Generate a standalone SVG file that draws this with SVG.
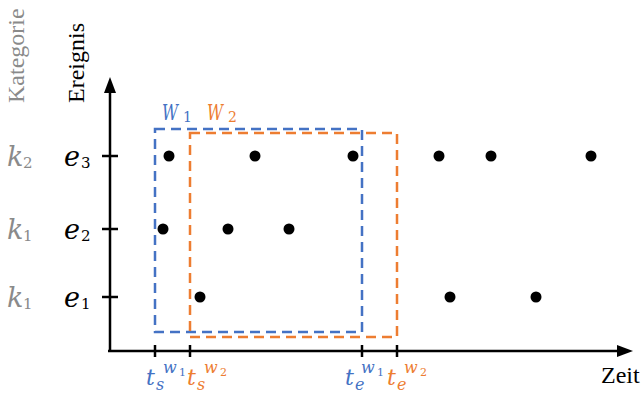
<svg xmlns="http://www.w3.org/2000/svg" width="641" height="393" viewBox="0 0 641 393">
<style>
.ax{stroke:#000;stroke-width:2.5;fill:none}
.tk{stroke:#000;stroke-width:2.5}
.win{fill:none;stroke-width:2.5;stroke-dasharray:10 6}
.blue{fill:#4472C4}
.orange{fill:#ED7D31}
.m{font-family:"DejaVu Serif",serif;font-style:italic}
.d{font-family:"DejaVu Serif",serif;font-style:normal}
.r{font-family:"Liberation Serif",serif;font-size:24px}
.dot{fill:#000}
.gray{fill:#8a8a8a}
</style>
<rect width="641" height="393" fill="#fff"/>
<g id="axes">
<line class="ax" x1="110" y1="352" x2="110" y2="90"/>
<polygon points="110,77 104,93 116,93" fill="#000"/>
<line class="ax" x1="108" y1="351" x2="620" y2="351"/>
<polygon points="633,351 617,345 617,357" fill="#000"/>
<line class="tk" x1="102" y1="156" x2="118" y2="156"/>
<line class="tk" x1="102" y1="229" x2="118" y2="229"/>
<line class="tk" x1="102" y1="297" x2="118" y2="297"/>
<line class="tk" x1="155" y1="345" x2="155" y2="357"/>
<line class="tk" x1="190" y1="345" x2="190" y2="357"/>
<line class="tk" x1="362" y1="345" x2="362" y2="357"/>
<line class="tk" x1="397" y1="345" x2="397" y2="357"/>
</g>
<g id="axis-labels">
<text class="r gray" transform="translate(24,103) rotate(-90)">Kategorie</text>
<text class="r" transform="translate(84,103) rotate(-90)">Ereignis</text>
<text class="r" x="601" y="383">Zeit</text>
</g>
<g id="row-labels">
<text class="m gray" x="7" y="166" font-size="27">k</text><text class="d gray" x="23" y="168" font-size="15">2</text>
<text class="m" x="64" y="166" font-size="27">e</text><text class="d" x="81" y="168" font-size="15">3</text>
<text class="m gray" x="7" y="239" font-size="27">k</text><text class="d gray" x="23" y="241" font-size="15">1</text>
<text class="m" x="64" y="239" font-size="27">e</text><text class="d" x="81" y="241" font-size="15">2</text>
<text class="m gray" x="7" y="307" font-size="27">k</text><text class="d gray" x="23" y="309" font-size="15">1</text>
<text class="m" x="64" y="307" font-size="27">e</text><text class="d" x="81" y="309" font-size="15">1</text>
</g>
<g id="window-1">
<rect class="win" x="155" y="129" width="207" height="203" stroke="#4472C4"/>
<text class="m blue" x="162" y="120" font-size="22" textLength="16" lengthAdjust="spacingAndGlyphs">W</text><text class="d blue" x="183" y="122" font-size="14">1</text>
</g>
<g id="window-2">
<rect class="win" x="190" y="133" width="207" height="204" stroke="#ED7D31"/>
<text class="m orange" x="207" y="120" font-size="22" textLength="16" lengthAdjust="spacingAndGlyphs">W</text><text class="d orange" x="228" y="122" font-size="14">2</text>
</g>
<g id="events">
<circle class="dot" cx="169" cy="156" r="5.5"/>
<circle class="dot" cx="255" cy="156" r="5.5"/>
<circle class="dot" cx="353" cy="156" r="5.5"/>
<circle class="dot" cx="439" cy="156" r="5.5"/>
<circle class="dot" cx="491" cy="156" r="5.5"/>
<circle class="dot" cx="591" cy="156" r="5.5"/>
<circle class="dot" cx="163" cy="229" r="5.5"/>
<circle class="dot" cx="228" cy="229" r="5.5"/>
<circle class="dot" cx="289" cy="229" r="5.5"/>
<circle class="dot" cx="200" cy="297" r="5.5"/>
<circle class="dot" cx="450" cy="297" r="5.5"/>
<circle class="dot" cx="536" cy="297" r="5.5"/>
</g>
<g id="time-labels">
<g class="blue"><text class="m" x="146" y="385" font-size="22">t</text><text class="m" x="156" y="390" font-size="16">s</text><text class="m" x="163" y="373" font-size="16">w</text><text class="d" x="179" y="376" font-size="11">1</text></g>
<g class="orange"><text class="m" x="187" y="385" font-size="22">t</text><text class="m" x="197" y="390" font-size="16">s</text><text class="m" x="204" y="373" font-size="16">w</text><text class="d" x="220" y="376" font-size="11">2</text></g>
<g class="blue"><text class="m" x="345" y="385" font-size="22">t</text><text class="m" x="355" y="390" font-size="16">e</text><text class="m" x="361" y="373" font-size="16">w</text><text class="d" x="377" y="376" font-size="11">1</text></g>
<g class="orange"><text class="m" x="387" y="385" font-size="22">t</text><text class="m" x="397" y="390" font-size="16">e</text><text class="m" x="404" y="373" font-size="16">w</text><text class="d" x="420" y="376" font-size="11">2</text></g>
</g>
</svg>
